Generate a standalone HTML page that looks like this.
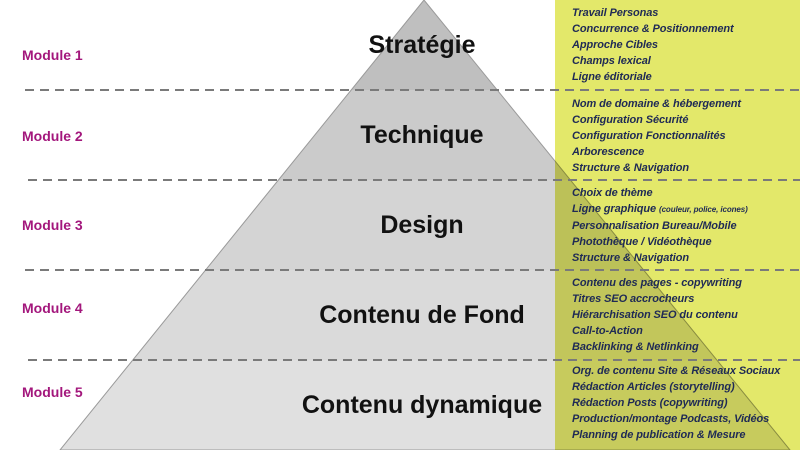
<!DOCTYPE html>
<html><head><meta charset="utf-8"><style>
body{margin:0;width:800px;height:450px;overflow:hidden;background:#fff;position:relative;font-family:"Liberation Sans",sans-serif}
.p{position:absolute;left:0;top:0}
.m{position:absolute;left:22px;color:#a3177c;font-weight:bold;font-size:14px;line-height:16px}
.t{position:absolute;width:300px;left:272px;text-align:center;font-weight:bold;font-size:25px;color:#111;line-height:30px}
.g{position:absolute;left:572px;color:#1f2a55;font-weight:bold;font-style:italic;font-size:11px;line-height:16px;white-space:nowrap;letter-spacing:-0.1px}
.s{font-size:8px}
</style></head><body>
<div style="position:absolute;left:555px;top:0;width:245px;height:450px;background:#e3e86a"></div>
<svg class="p" width="800" height="450" style="mix-blend-mode:multiply">
<defs><clipPath id="c"><polygon points="424,0 60,450 790,450"/></clipPath></defs>
<g clip-path="url(#c)">
<rect x="0" y="0" width="800" height="90" fill="#bfbfbf"/>
<rect x="0" y="90" width="800" height="90" fill="#cbcbcb"/>
<rect x="0" y="180" width="800" height="90" fill="#d4d4d4"/>
<rect x="0" y="270" width="800" height="90" fill="#dadada"/>
<rect x="0" y="360" width="800" height="90" fill="#e0e0e0"/>
</g>
<polygon points="424,0 60,450 790,450" fill="none" stroke="#9a9a9a" stroke-width="1"/>
</svg>
<svg class="p" width="800" height="450">
<g stroke="#7a7a7a" stroke-width="2" stroke-dasharray="9,6">
<line x1="25" y1="90" x2="800" y2="90"/>
<line x1="28" y1="180" x2="800" y2="180"/>
<line x1="25" y1="270" x2="800" y2="270"/>
<line x1="28" y1="360" x2="800" y2="360"/>
</g>
</svg>
<div class="m" style="top:47px">Module 1</div>
<div class="m" style="top:128px">Module 2</div>
<div class="m" style="top:217px">Module 3</div>
<div class="m" style="top:300px">Module 4</div>
<div class="m" style="top:384px">Module 5</div>
<div class="t" style="top:30px">Stratégie</div>
<div class="t" style="top:120px">Technique</div>
<div class="t" style="top:210px">Design</div>
<div class="t" style="top:300px">Contenu de Fond</div>
<div class="t" style="top:390px">Contenu dynamique</div>
<div class="g" style="top:5px">Travail Personas<br>Concurrence &amp; Positionnement<br>Approche Cibles<br>Champs lexical<br>Ligne éditoriale</div>
<div class="g" style="top:96px">Nom de domaine &amp; hébergement<br>Configuration Sécurité<br>Configuration Fonctionnalités<br>Arborescence<br>Structure &amp; Navigation</div>
<div class="g" style="top:185px">Choix de thème<br>Ligne graphique <span class="s">(couleur, police, icones)</span><br>Personnalisation Bureau/Mobile<br>Photothèque / Vidéothèque<br>Structure &amp; Navigation</div>
<div class="g" style="top:275px">Contenu des pages - copywriting<br>Titres SEO accrocheurs<br>Hiérarchisation SEO du contenu<br>Call-to-Action<br>Backlinking &amp; Netlinking</div>
<div class="g" style="top:363px">Org. de contenu Site &amp; Réseaux Sociaux<br>Rédaction Articles (storytelling)<br>Rédaction Posts (copywriting)<br>Production/montage Podcasts, Vidéos<br>Planning de publication &amp; Mesure</div>
</body></html>
